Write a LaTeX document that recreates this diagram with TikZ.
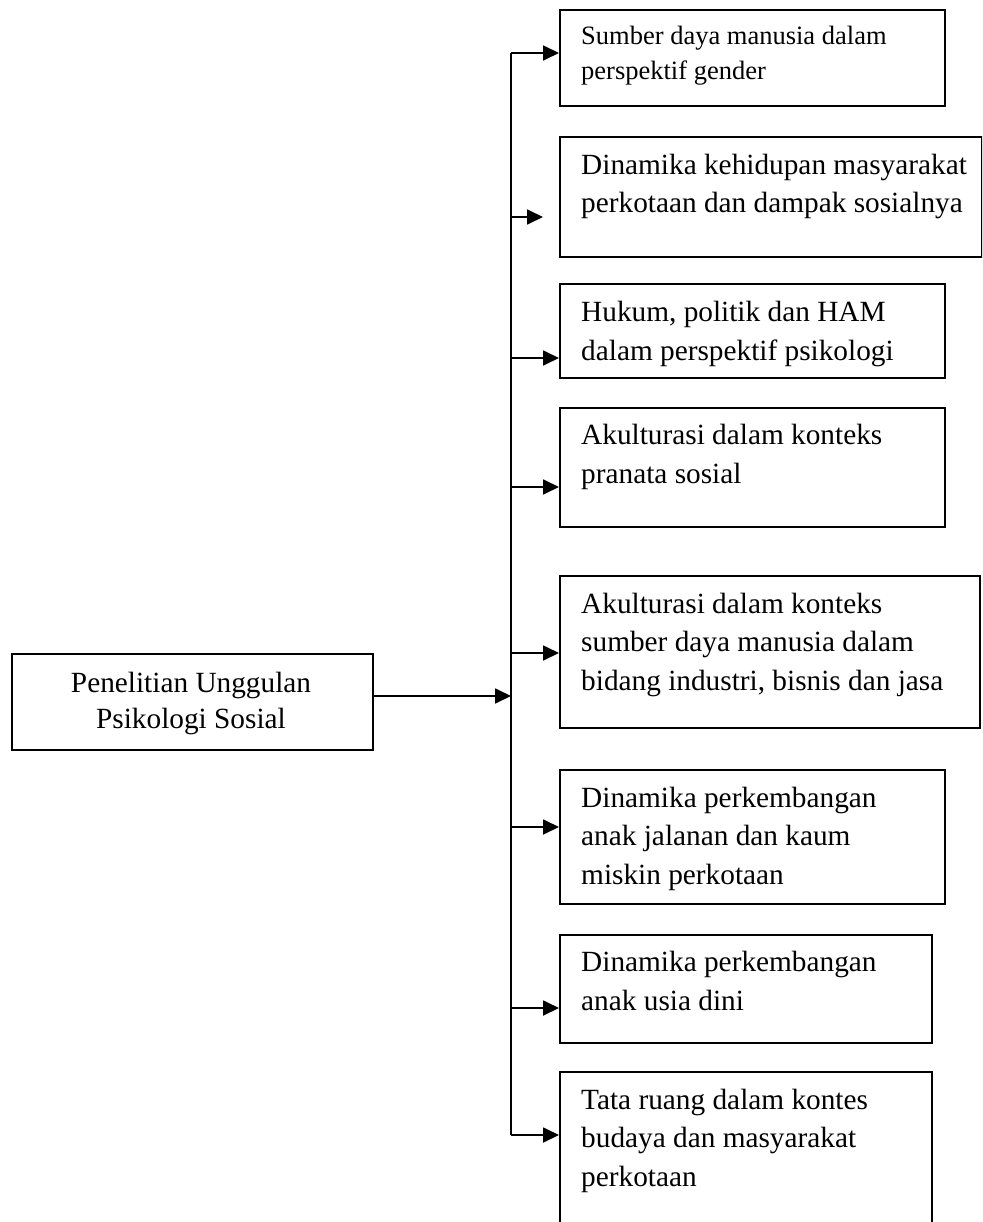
\documentclass[tikz,border=0pt]{standalone}
\usepackage{fontspec}
\setmainfont{Liberation Serif}
\usetikzlibrary{arrows.meta}
\begin{document}
\begin{tikzpicture}[x=1pt,y=-1pt,
  box/.style={draw, line width=1.6pt, inner sep=0pt, anchor=north west},
  txt/.style={anchor=base west, inner sep=0pt, align=left, font=\fontsize{29.3}{38.5}\selectfont},
  smalltxt/.style={txt, font=\fontsize{26.5}{35}\selectfont},
  conn/.style={line width=1.8pt, -{Triangle[length=16pt,width=15pt]}},
  trunkline/.style={line width=1.8pt}]
\useasboundingbox (0,0) rectangle (982,1222);
\clip (0,0) rectangle (982,1222);

% boxes
\node[box, minimum width=361pt, minimum height=96pt]  (main) at (11,653) {};
\node[box, minimum width=385pt, minimum height=96pt]  (b1) at (559,9) {};
\node[box, minimum width=422pt, minimum height=120pt] (b2) at (559,136) {};
\node[box, minimum width=385pt, minimum height=94pt]  (b3) at (559,283) {};
\node[box, minimum width=385pt, minimum height=119pt] (b4) at (559,407) {};
\node[box, minimum width=420pt, minimum height=152pt] (b5) at (559,575) {};
\node[box, minimum width=385pt, minimum height=134pt] (b6) at (559,769) {};
\node[box, minimum width=372pt, minimum height=108pt] (b7) at (559,934) {};
\node[box, minimum width=372pt, minimum height=180pt] (b8) at (559,1071) {};

% texts (anchor = baseline of last line)
\node[txt, anchor=base, align=center, font=\fontsize{29.3}{36}\selectfont] (tm) at (191,728) {Penelitian Unggulan\\Psikologi Sosial};
\node[smalltxt] (t1) at (581,80) {Sumber daya manusia dalam\\perspektif gender};
\node[txt] (t2) at (581,213) {Dinamika kehidupan masyarakat\\perkotaan dan dampak sosialnya};
\node[txt] (t3) at (581,360) {Hukum, politik dan HAM\\dalam perspektif psikologi};
\node[txt] (t4) at (581,483) {Akulturasi dalam konteks\\pranata sosial};
\node[txt] (t5) at (581,690) {Akulturasi dalam konteks\\sumber daya manusia dalam\\bidang industri, bisnis dan jasa};
\node[txt] (t6) at (581,884) {Dinamika perkembangan\\anak jalanan dan kaum\\miskin perkotaan};
\node[txt] (t7) at (581,1010) {Dinamika perkembangan\\anak usia dini};
\node[txt] (t8) at (581,1186) {Tata ruang dalam kontes\\budaya dan masyarakat\\perkotaan};

% junctions on trunk
\coordinate (j1) at (511,53);
\coordinate (j2) at (511,217);
\coordinate (j3) at (511,358);
\coordinate (j4) at (511,487);
\coordinate (j5) at (511,653);
\coordinate (jm) at (511,696);
\coordinate (j6) at (511,827);
\coordinate (j7) at (511,1008);
\coordinate (j8) at (511,1135);
\coordinate (e2) at (543,217);

\draw[trunkline] (j1) -- (j8);
\draw[conn] (jm -| main.east) -- (jm);
\draw[conn] (j1) -- (j1 -| b1.west);
\draw[conn] (j2) -- (e2);
\draw[conn] (j3) -- (j3 -| b3.west);
\draw[conn] (j4) -- (j4 -| b4.west);
\draw[conn] (j5) -- (j5 -| b5.west);
\draw[conn] (j6) -- (j6 -| b6.west);
\draw[conn] (j7) -- (j7 -| b7.west);
\draw[conn] (j8) -- (j8 -| b8.west);
\end{tikzpicture}
\end{document}
